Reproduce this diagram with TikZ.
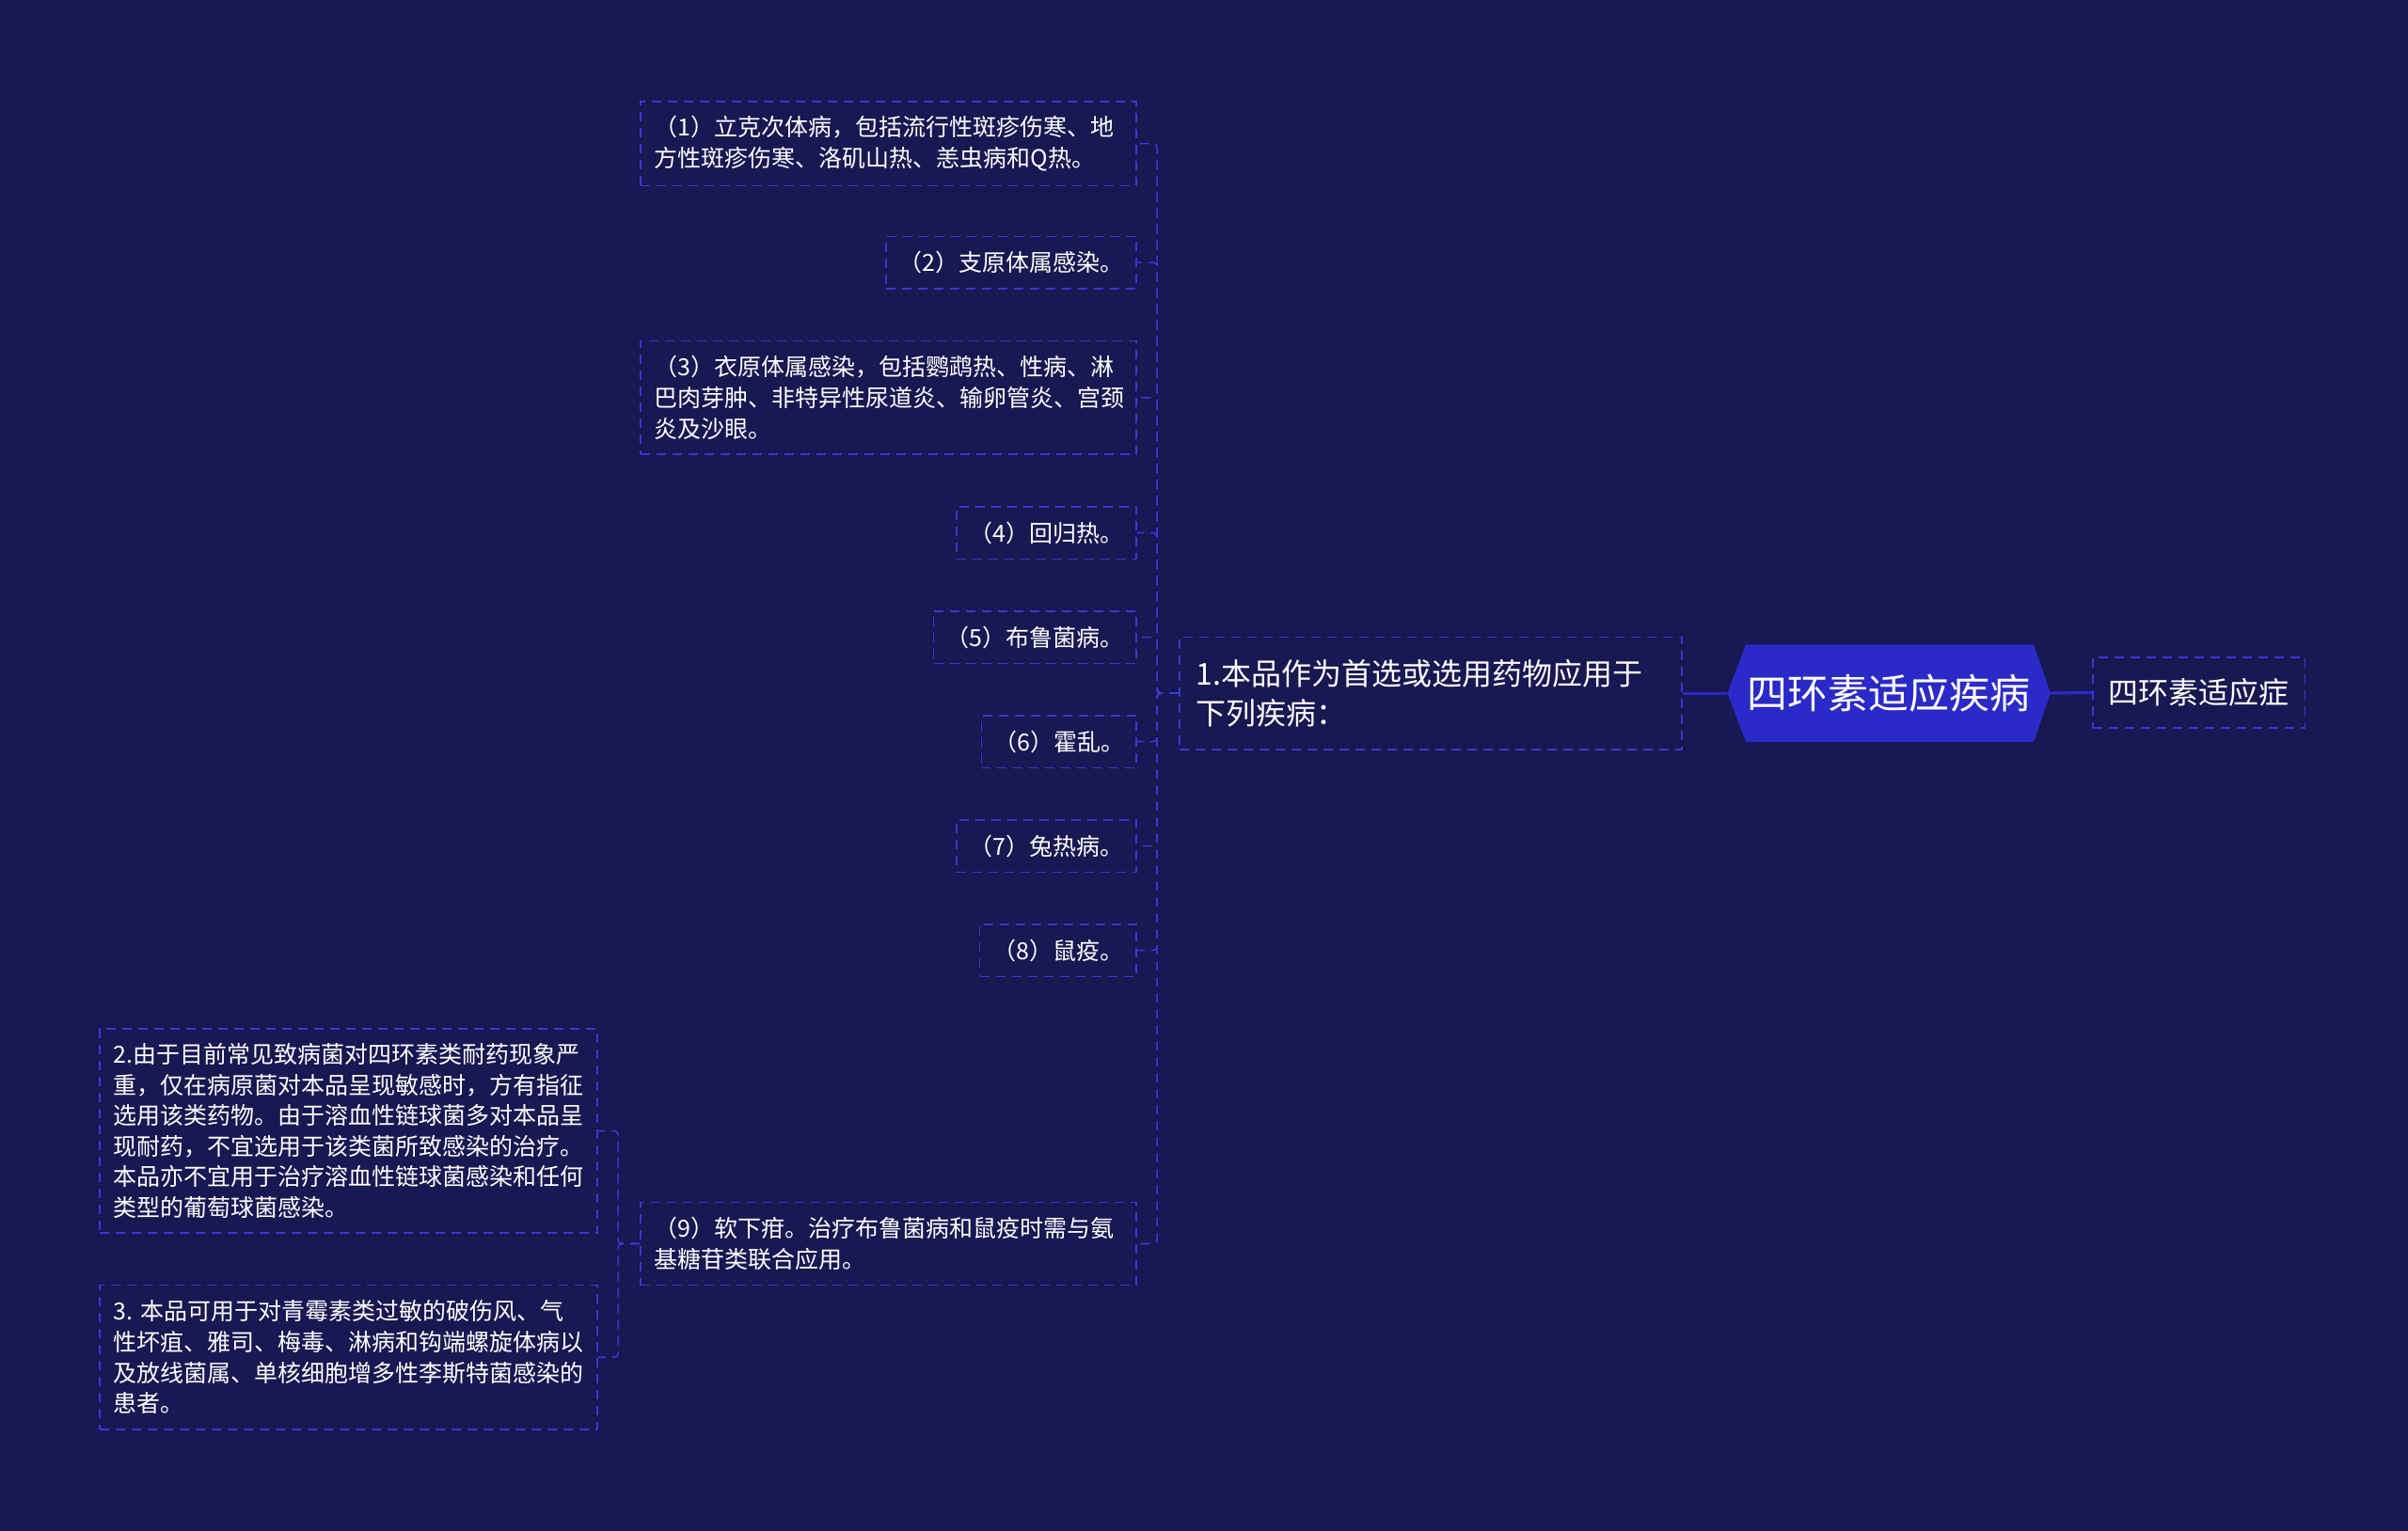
\documentclass[tikz,border=0pt]{standalone}
\usepackage{fontspec}
\setmainfont{Noto Sans CJK SC}
\usetikzlibrary{backgrounds}
\definecolor{bgcol}{RGB}{24,24,82}
\definecolor{linecol}{RGB}{56,56,214}
\definecolor{rootcol}{RGB}{42,42,200}
\tikzset{
  base/.style={draw=linecol, dash pattern=on 5pt off 3.5pt, line width=0.8pt, text=white, inner sep=0pt},
  leaf/.style={base, font=\fontsize{12.5pt}{16.3pt}\selectfont, minimum height=27.8pt, align=center},
  multileaf/.style={base, font=\fontsize{12.5pt}{16.3pt}\selectfont, align=left, inner xsep=7.35pt},
  conn/.style={draw=linecol, dash pattern=on 5pt off 3.5pt, line width=0.8pt, rounded corners=2pt},
  rootconn/.style={draw=rootcol, line width=1.6pt},
}
\begin{document}
\begin{tikzpicture}[x=0.8163pt, y=-0.8163pt]
\useasboundingbox (0,0) rectangle (1568,997);
\begin{scope}[on background layer]
\fill[bgcol] (0,0) rectangle (1568,997);
\end{scope}

% root
\node[text=white, inner sep=0pt, minimum width=171.4pt, minimum height=51.4pt,
      font=\fontsize{21.5pt}{26pt}\selectfont] (root) at (1230,451.5) {四环素适应疾病};
\begin{scope}[on background layer]
\fill[rootcol] (root.west) -- ([xshift=9.8pt]root.north west) -- ([xshift=-9pt]root.north east)
  -- (root.east) -- ([xshift=-9pt]root.south east) -- ([xshift=9.8pt]root.south west) -- cycle;
\end{scope}

% right node
\node[base, minimum width=112.7pt, minimum height=37.5pt, font=\fontsize{16pt}{20pt}\selectfont] (r) at (1432,451) {四环素适应症};

% node 1
\node[base, align=left, inner xsep=9pt, text width=249pt, minimum height=59.6pt,
      font=\fontsize{16pt}{21.2pt}\selectfont] (a) at (931.5,451.5)
  {1.本品作为首选或选用药物应用于\\下列疾病：};

% children of node 1
\node[multileaf, text width=249pt, minimum height=44.9pt] (c1) at (578.5,93.5)
  {（1）立克次体病，包括流行性斑疹伤寒、地\\方性斑疹伤寒、洛矶山热、恙虫病和Q热。};
\node[leaf, minimum width=133.1pt] (c2) at (658.5,171) {（2）支原体属感染。};
\node[multileaf, text width=249pt, minimum height=60.4pt] (c3) at (578.5,259)
  {（3）衣原体属感染，包括鹦鹉热、性病、淋\\巴肉芽肿、非特异性尿道炎、输卵管炎、宫颈\\炎及沙眼。};
\node[leaf, minimum width=95.5pt] (c4) at (681.5,347) {（4）回归热。};
\node[leaf, minimum width=107.8pt] (c5) at (674,415) {（5）布鲁菌病。};
\node[leaf, minimum width=82.4pt] (c6) at (689.5,483) {（6）霍乱。};
\node[leaf, minimum width=95.5pt] (c7) at (681.5,551) {（7）兔热病。};
\node[leaf, minimum width=83.3pt] (c8) at (689,619) {（8）鼠疫。};
\node[multileaf, text width=249pt, minimum height=44.1pt] (c9) at (578.5,810)
  {（9）软下疳。治疗布鲁菌病和鼠疫时需与氨\\基糖苷类联合应用。};

% children of (9)
\node[multileaf, text width=249.8pt, minimum height=108.6pt] (d2) at (227,736.5)
  {2.由于目前常见致病菌对四环素类耐药现象严\\重，仅在病原菌对本品呈现敏感时，方有指征\\选用该类药物。由于溶血性链球菌多对本品呈\\现耐药，不宜选用于该类菌所致感染的治疗。\\本品亦不宜用于治疗溶血性链球菌感染和任何\\类型的葡萄球菌感染。};
\node[multileaf, text width=249.8pt, minimum height=76.7pt] (d3) at (227,884)
  {3.~本品可用于对青霉素类过敏的破伤风、气\\性坏疽、雅司、梅毒、淋病和钩端螺旋体病以\\及放线菌属、单核细胞增多性李斯特菌感染的\\患者。};

% connectors
\draw[rootconn] (root.west) -- (a.east);
\draw[rootconn] (root.east) -- (r.west);
\foreach \c in {c1,c2,c3,c4,c5,c6,c7,c8,c9}
  \draw[conn] (a.west) -- ++(-14,0) |- (\c.east);
\foreach \c in {d2,d3}
  \draw[conn] (c9.west) -- ++(-14,0) |- (\c.east);
\end{tikzpicture}
\end{document}
